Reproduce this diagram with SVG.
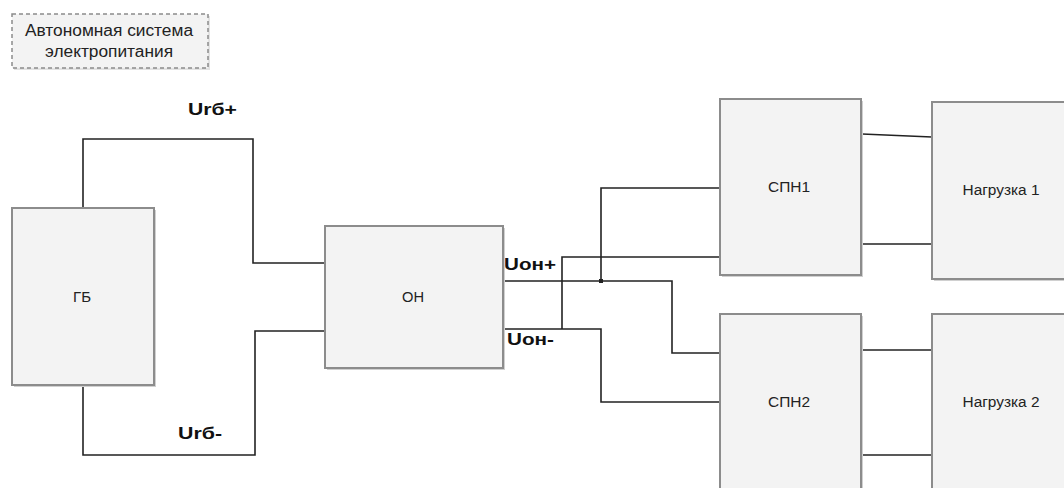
<svg xmlns="http://www.w3.org/2000/svg" width="1064" height="488" viewBox="0 0 1064 488">
  <style>
    .box { fill: #f3f3f3; stroke: #8c8c8c; stroke-width: 2; }
    .shadow { fill: #d0d0d0; stroke: none; }
    .lbl { font-family: "Liberation Sans", Arial, sans-serif; font-size: 14px; fill: #222; text-anchor: middle; dominant-baseline: central; }
    .title { font-family: "Liberation Sans", Arial, sans-serif; font-size: 16px; fill: #222; text-anchor: middle; }
    .volt { font-family: "Liberation Sans", Arial, sans-serif; font-size: 17px; font-weight: bold; fill: #111; }
    .wire { fill: none; stroke: #222; stroke-width: 1.6; }
  </style>

  <!-- caption -->
  <g id="caption">
    <rect x="14" y="16" width="196" height="54" class="shadow" opacity="0.6"/>
    <rect x="12" y="14" width="196" height="54" fill="#f3f3f3" stroke="#8c8c8c" stroke-width="1.5" stroke-dasharray="4 3"/>
    <text class="title" x="109" y="36" textLength="168" lengthAdjust="spacingAndGlyphs">Автономная система</text>
    <text class="title" x="109" y="57" textLength="128" lengthAdjust="spacingAndGlyphs">электропитания</text>
  </g>

  <!-- wiring -->
  <g id="connectors">
    <!-- battery to voltage regulator -->
    <polyline class="wire" points="83,208 83,139 253,139 253,263 325,263"/>
    <polyline class="wire" points="83,385 83,455 255,455 255,331 325,331"/>
    <!-- regulator outputs -->
    <polyline class="wire" points="503,281 672,281 672,353 720,353"/>
    <polyline class="wire" points="601,281 601,188 720,188"/>
    <polyline class="wire" points="503,329 601,329 601,402 720,402"/>
    <polyline class="wire" points="562,329 562,257 720,257"/>
    <rect x="599" y="279" width="4" height="4" fill="#222"/>
    <!-- converters to loads -->
    <line class="wire" x1="862" y1="134" x2="932" y2="137"/>
    <line class="wire" x1="862" y1="244" x2="932" y2="244"/>
    <line class="wire" x1="862" y1="350" x2="932" y2="350"/>
    <line class="wire" x1="862" y1="455" x2="932" y2="455"/>
    <!-- voltage labels -->
    <text class="volt" x="188" y="115" textLength="49" lengthAdjust="spacingAndGlyphs">Urб+</text>
    <text class="volt" x="178" y="439" textLength="44" lengthAdjust="spacingAndGlyphs">Urб-</text>
    <text class="volt" x="504" y="270" textLength="52" lengthAdjust="spacingAndGlyphs">Uон+</text>
    <text class="volt" x="507" y="345" textLength="47" lengthAdjust="spacingAndGlyphs">Uон-</text>
  </g>

  <g id="gb">
    <rect x="14" y="210" width="142" height="177" class="shadow"/>
    <rect x="12" y="208" width="142" height="177" class="box"/>
    <text class="lbl" x="82" y="297" textLength="18" lengthAdjust="spacingAndGlyphs">ГБ</text>
  </g>

  <g id="on">
    <rect x="327" y="228" width="178" height="142" class="shadow"/>
    <rect x="325" y="226" width="178" height="142" class="box"/>
    <text class="lbl" x="413" y="297" textLength="22" lengthAdjust="spacingAndGlyphs">ОН</text>
  </g>

  <g id="spn1">
    <rect x="722" y="101" width="141" height="176" class="shadow"/>
    <rect x="720" y="99" width="141" height="176" class="box"/>
    <text class="lbl" x="789" y="187" textLength="42" lengthAdjust="spacingAndGlyphs">СПН1</text>
  </g>

  <g id="spn2">
    <rect x="722" y="316" width="141" height="190" class="shadow"/>
    <rect x="720" y="314" width="141" height="190" class="box"/>
    <text class="lbl" x="789" y="402" textLength="42" lengthAdjust="spacingAndGlyphs">СПН2</text>
  </g>

  <g id="load1">
    <rect x="934" y="104" width="140" height="177" class="shadow"/>
    <rect x="932" y="102" width="140" height="177" class="box"/>
    <text class="lbl" x="1001" y="190" textLength="77" lengthAdjust="spacingAndGlyphs">Нагрузка 1</text>
  </g>

  <g id="load2">
    <rect x="934" y="316" width="140" height="190" class="shadow"/>
    <rect x="932" y="314" width="140" height="190" class="box"/>
    <text class="lbl" x="1001" y="402" textLength="77" lengthAdjust="spacingAndGlyphs">Нагрузка 2</text>
  </g>
</svg>
